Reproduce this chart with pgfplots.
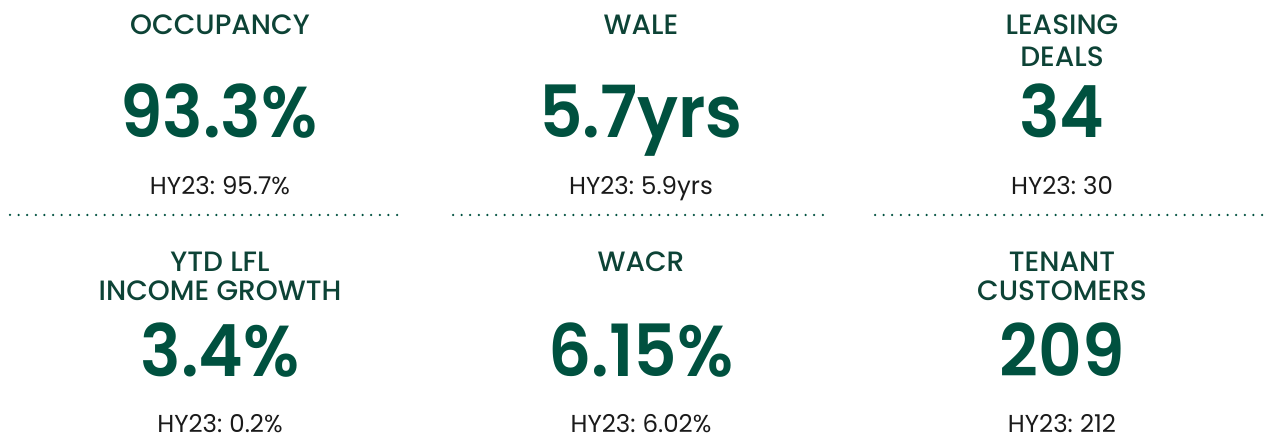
\documentclass[border=0pt]{standalone}
\usepackage{pgfplots}
\pgfplotsset{compat=1.18}
\usepackage{fontspec}
\setmainfont{Poppins}
\newfontfamily\titlefont{Poppins}[UprightFont=* Medium]
\newfontfamily\numfont{Poppins}[UprightFont=* SemiBold, FakeStretch=0.94]
\definecolor{kpigreen}{HTML}{00513F}
\definecolor{titlegreen}{HTML}{0D4336}
\definecolor{subgrey}{HTML}{1A1A1A}
\newcommand{\kpititle}{\fontsize{28}{32}\titlefont\color{titlegreen}}
\newcommand{\kpinum}{\fontsize{72}{72}\numfont\color{kpigreen}}
% the comparison line sits tighter after the colon than Poppins' own space
\newcommand{\kpisub}{\fontsize{24.5}{28}\selectfont\spaceskip=0.2em\color{subgrey}}
\tikzset{kpi/.style={anchor=base, inner sep=0pt}}
\begin{document}
\begin{tikzpicture}
\begin{axis}[
  % pixel frame of the reference, y running downwards; the frame is kept
  % (undrawn) so the page is exactly the axis box
  width=1268pt, height=438pt, scale only axis,
  xmin=0, xmax=1268, ymin=0, ymax=438, y dir=reverse,
  axis lines=box, axis line style={draw=none}, ticks=none, clip=false,
  ]
  % dotted separators between the two rows
  \addplot[kpigreen, line width=2.5pt, line cap=round, dash pattern=on 0pt off 8.6pt]
    coordinates {(10,215) (405,215)};
  \addplot[kpigreen, line width=2.5pt, line cap=round, dash pattern=on 0pt off 8.6pt]
    coordinates {(453,215) (826,215)};
  \addplot[kpigreen, line width=2.5pt, line cap=round, dash pattern=on 0pt off 8.6pt]
    coordinates {(875,215) (1262,215)};

  % top row
  \node[kpi] at (axis cs:220,35) {\kpititle OCCUPANCY};
  \node[kpi] at (axis cs:219,138) {\kpinum 93.3\%};
  \node[kpi] at (axis cs:220,195) {\kpisub HY23: 95.7\%};

  \node[kpi] at (axis cs:641,35) {\kpititle WALE};
  \node[kpi] at (axis cs:641,138) {\kpinum 5.7yrs};
  \node[kpi] at (axis cs:641,195) {\kpisub HY23: 5.9yrs};

  \node[kpi] at (axis cs:1062,35) {\kpititle LEASING};
  \node[kpi] at (axis cs:1062,67) {\kpititle DEALS};
  \node[kpi] at (axis cs:1062,138) {\kpinum 34};
  \node[kpi] at (axis cs:1062,195) {\kpisub HY23: 30};

  % bottom row
  \node[kpi] at (axis cs:220,272) {\kpititle YTD LFL};
  \node[kpi] at (axis cs:220,300) {\kpititle INCOME GROWTH};
  \node[kpi] at (axis cs:220,376) {\kpinum 3.4\%};
  \node[kpi] at (axis cs:220,432) {\kpisub HY23: 0.2\%};

  \node[kpi] at (axis cs:641,272) {\kpititle WACR};
  \node[kpi] at (axis cs:641,376) {\kpinum 6.15\%};
  \node[kpi] at (axis cs:641,432) {\kpisub HY23: 6.02\%};

  \node[kpi] at (axis cs:1062,272) {\kpititle TENANT};
  \node[kpi] at (axis cs:1062,300) {\kpititle CUSTOMERS};
  \node[kpi] at (axis cs:1062,376) {\kpinum 209};
  \node[kpi] at (axis cs:1062,432) {\kpisub HY23: 212};
\end{axis}
\end{tikzpicture}
\end{document}
